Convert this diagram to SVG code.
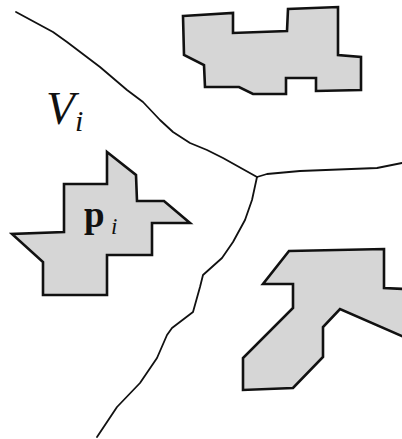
<svg xmlns="http://www.w3.org/2000/svg" width="402" height="439" viewBox="0 0 402 439">
<style>
.obs{fill:#d6d6d6;stroke:#111;stroke-width:2.6;stroke-linejoin:miter}
.edge{fill:none;stroke:#111;stroke-width:1.8;stroke-linejoin:round;stroke-linecap:round}
.lbl{font-family:"Liberation Serif","DejaVu Serif",serif;fill:#111}
</style>
<rect width="402" height="439" fill="#fff"/>
<g id="connectors">
<path class="edge" d="M16,12 L53,32 L67,42 L100,67 L127,90 L143,102 L160,120 L173,132 L190,143 L207,150 L223,158 L257,177"/>
<path class="edge" d="M257,177 L267,174 L300,171 L377,168 L402,163"/>
<path class="edge" d="M257,177 L252,200 L245,220 L233,242 L222,258 L203,275 L200,287 L193,312 L172,328 L167,335 L157,358 L140,383 L117,407 L97,437"/>
</g>
<g id="obstacle-top">
<polygon class="obs" points="183,16 233,13 233,33 287,31 288,9 338,7 338,55 361,57 361,90 316,91 316,78 286,78 286,94 253,94 239,87 205,87 204,65 184,55"/>
</g>
<g id="obstacle-left">
<polygon class="obs" points="107,152 136,175 137,201 164,201 190,223 152,223 152,255 107,255 107,295 43,295 43,262 12,234 64,232 64,184 107,184"/>
</g>
<g id="obstacle-bottom">
<polygon class="obs" points="289,251 384,249 384,288 404,289 404,337 340,309 323,327 323,357 293,388 243,390 243,358 293,308 293,284 263,284"/>
</g>
<g id="label-Vi">
<text class="lbl" x="46" y="124" font-size="47" font-style="italic">V</text>
<text class="lbl" x="75" y="131" font-size="30" font-style="italic">i</text>
</g>
<g id="label-pi">
<text class="lbl" x="84" y="227" font-size="37" font-weight="bold">p</text>
<text class="lbl" x="111" y="234" font-size="23" font-style="italic">i</text>
</g>
</svg>
